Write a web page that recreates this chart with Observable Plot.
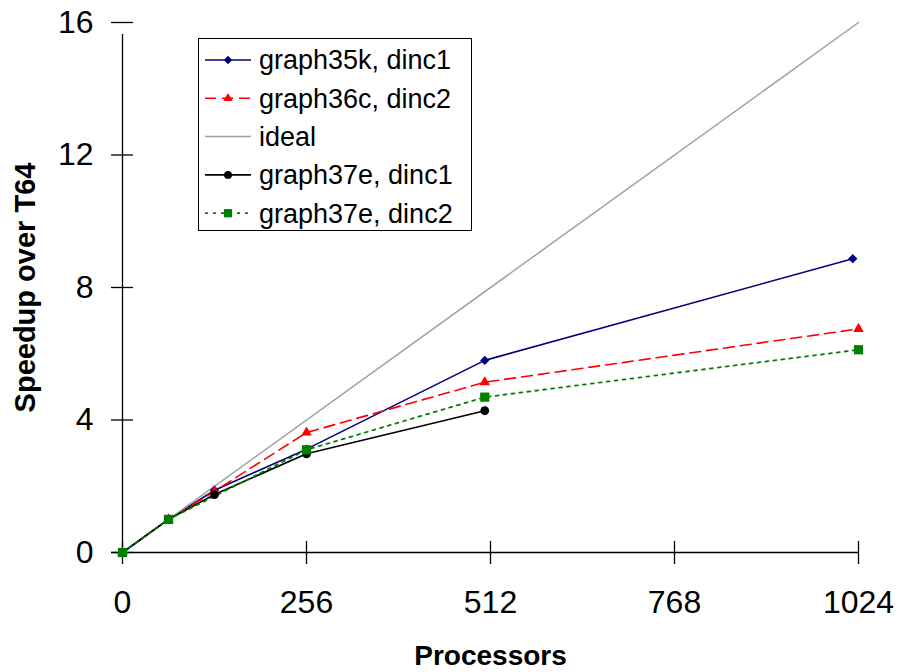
<!DOCTYPE html>
<html><head><meta charset="utf-8">
<script src="https://cdn.jsdelivr.net/npm/d3@7"></script>
<script src="https://cdn.jsdelivr.net/npm/@observablehq/plot@0.6"></script>
<style>
body{margin:0;background:#fff;}
#wrap{position:relative;width:899px;height:672px;font-family:"Liberation Sans",Arial,sans-serif;}
#legend{position:absolute;left:198px;top:38px;}
</style></head><body><div id="wrap"></div>
<script>
const xTicks = [0, 256, 512, 768, 1024];
const yTicks = [0, 4, 8, 12, 16];
const seriesNames = ["graph35k, dinc1", "graph36c, dinc2", "ideal", "graph37e, dinc1", "graph37e, dinc2"];
const g35kX = [0, 64, 128, 256, 504, 1016];
const g35kY = [0, 1, 1.88, 3.12, 5.80, 8.87];
const g36cX = [0, 64, 128, 256, 504, 1024];
const g36cY = [0, 1, 1.85, 3.62, 5.14, 6.75];
const idealX = [0, 1024];
const idealY = [0, 16];
const g37e1X = [0, 64, 128, 256, 504];
const g37e1Y = [0, 1, 1.75, 2.98, 4.28];
const g37e2X = [0, 64, 256, 504, 1024];
const g37e2Y = [0, 1, 3.10, 4.69, 6.12];
const xLabel = "Processors";
const yLabel = "Speedup over T64";

const seriesX = [g35kX, g36cX, idealX, g37e1X, g37e2X];
const seriesY = [g35kY, g36cY, idealY, g37e1Y, g37e2Y];
const colors = ["#000080", "#ff0000", "#a0a0a0", "#000000", "#008000"];
const dashes = [null, "11,6", null, null, "3,5"];
const symbols = ["diamond2", "triangle", null, "circle", "square"];
const radii = [4.2, 3.9, 0, 4.4, 5.2];
const widths = [1.6, 1.6, 1.5, 1.7, 1.8];

const series = seriesNames.map((name, i) => seriesX[i].map((x, j) => ({series: name, x, y: seriesY[i][j]})));

const font = "Liberation Sans, Arial, Helvetica, sans-serif";
const marks = [];
// axis lines and crossing ticks
marks.push(Plot.ruleY([0], {x1: 0, x2: 1024, insetLeft: -11, stroke: "#000", strokeWidth: 1.3}));
marks.push(Plot.ruleX([0], {y1: 0, y2: 16, insetBottom: -12, stroke: "#000", strokeWidth: 1.3}));
marks.push(Plot.ruleX(xTicks, {x: d => d, y1: 0, y2: 0, insetTop: -11, insetBottom: -12, stroke: "#000", strokeWidth: 1.3}));
marks.push(Plot.ruleY(yTicks, {y: d => d, x1: 0, x2: 0, insetLeft: -11, insetRight: -11, stroke: "#000", strokeWidth: 1.3}));
// tick labels
marks.push(Plot.axisX(xTicks, {tickSize: 0, tickPadding: 38, fontSize: 32, label: null, tickFormat: d => String(d)}));
marks.push(Plot.axisY(yTicks, {tickSize: 0, tickPadding: 29, fontSize: 32, label: null, tickFormat: d => String(d)}));
// series
series.forEach((rows, i) => {
  marks.push(Plot.line(rows, {x: "x", y: "y", stroke: colors[i], strokeWidth: widths[i], strokeDasharray: dashes[i] || undefined}));
});
series.forEach((rows, i) => {
  if (symbols[i]) marks.push(Plot.dot(rows, {x: "x", y: "y", symbol: symbols[i], r: radii[i], fill: colors[i], stroke: "none"}));
});
// axis titles
marks.push(Plot.text([xLabel], {frameAnchor: "bottom", dy: 104, textAnchor: "middle", lineAnchor: "middle", text: d => d, fontSize: 28, fontWeight: "bold", fill: "#000"}));
marks.push(Plot.text([yLabel], {frameAnchor: "left", dx: -97, rotate: -90, textAnchor: "middle", lineAnchor: "middle", text: d => d, fontSize: 29, fontWeight: "bold", fill: "#000"}));

const chart = Plot.plot({
  width: 899, height: 672,
  marginLeft: 122, marginRight: 41, marginTop: 22, marginBottom: 120,
  style: {fontFamily: font, background: "#fff", color: "#000", overflow: "visible"},
  x: {domain: [0, 1024]},
  y: {domain: [0, 16]},
  marks
});
const wrap = document.getElementById("wrap");
wrap.appendChild(chart);

// legend overlay
const lw = 273, lh = 192;
const leg = d3.select(wrap).append("svg").attr("id", "legend").attr("width", lw + 2).attr("height", lh + 2);
leg.append("rect").attr("x", 0.5).attr("y", 0.5).attr("width", lw).attr("height", lh).attr("fill", "#fff").attr("stroke", "#000").attr("stroke-width", 1);
const symMap = {diamond2: d3.symbolDiamond2, triangle: d3.symbolTriangle, circle: d3.symbolCircle, square: d3.symbolSquare};
seriesNames.forEach((name, i) => {
  const cy = 22 + i * 38.3;
  const g = leg.append("g").attr("transform", `translate(0,${cy})`);
  g.append("line").attr("x1", 7).attr("x2", 53).attr("y1", 0).attr("y2", 0)
    .attr("stroke", colors[i]).attr("stroke-width", widths[i]).attr("stroke-dasharray", dashes[i]);
  if (symbols[i]) {
    g.append("path").attr("transform", "translate(30,0)")
      .attr("d", d3.symbol(symMap[symbols[i]], Math.PI * radii[i] * radii[i] * 0.8)())
      .attr("fill", colors[i]);
  }
  g.append("text").attr("x", 61).attr("y", 0).attr("dy", "0.35em")
    .attr("font-family", font).attr("font-size", 27).attr("fill", "#000").text(name);
});
</script>
</body></html>
